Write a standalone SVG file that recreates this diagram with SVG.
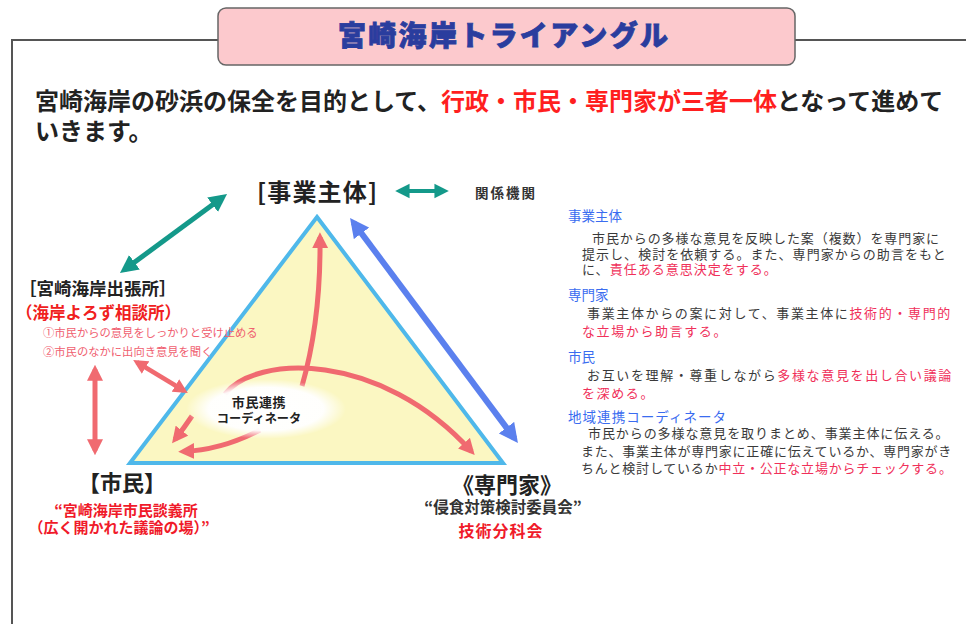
<svg xmlns="http://www.w3.org/2000/svg" width="966" height="624" viewBox="0 0 966 624">
<style>
text{font-family:"Noto Sans CJK JP","Noto Sans CJK SC",sans-serif;}
.b{font-weight:700;}
.dark{fill:#222;}
.body{fill:#3a3a3a;font-size:13px;}
.red{fill:#f0305a;}
.hred{fill:#ff1f1f;}
.blue{fill:#3a6cf0;font-size:13.5px;}
.pink{fill:#f06070;font-size:11.3px;}
.frame{fill:none;stroke:#555;stroke-width:2;}
</style>
<defs>
<marker id="mTeal" viewBox="0 0 10 10" refX="7" refY="5" markerWidth="3.6" markerHeight="4" orient="auto-start-reverse" markerUnits="strokeWidth"><path d="M0,0L10,5L0,10z" fill="#14998a"/></marker>
<marker id="mPink" viewBox="0 0 10 10" refX="7" refY="5" markerWidth="3.2" markerHeight="3.4" orient="auto-start-reverse" markerUnits="strokeWidth"><path d="M0,0L10,5L0,10z" fill="#f06a70"/></marker>
<marker id="mBlue" viewBox="0 0 10 10" refX="7" refY="5" markerWidth="3.2" markerHeight="3.4" orient="auto-start-reverse" markerUnits="strokeWidth"><path d="M0,0L10,5L0,10z" fill="#5b80ee"/></marker>
<radialGradient id="ell"><stop offset="0" stop-color="#fff" stop-opacity="1"/><stop offset="0.72" stop-color="#fff" stop-opacity="0.96"/><stop offset="1" stop-color="#fff" stop-opacity="0"/></radialGradient>
</defs>
<rect width="966" height="624" fill="#fff"/>
<g id="frame">
<path class="frame" d="M12,624V40H218M795,40H966"/>
</g>
<g id="title">
<rect x="218" y="8" width="577" height="57" rx="8" fill="#fcc9cd" stroke="#666" stroke-width="1.5"/>
<text x="338" y="46" font-size="28" font-weight="900" fill="#2a3d9e" stroke="#2a3d9e" stroke-width="0.8" textLength="330" lengthAdjust="spacing">宮崎海岸トライアングル</text>
</g>
<g id="heading">
<text class="b dark" font-size="24"><tspan x="35" y="110">宮崎海岸の砂浜の保全を目的として、<tspan class="hred">行政・市民・専門家が三者一体</tspan>となって進めて</tspan><tspan x="35" y="140">いきます。</tspan></text>
</g>
<g id="triangle">
<polygon points="317,217 503,463 130,463" fill="#fbf7c2" stroke="#4fb8ea" stroke-width="4" stroke-linejoin="miter"/>
</g>
<g id="connectors" fill="none" stroke-linecap="butt">
<line x1="222.7" y1="197.2" x2="124.3" y2="269.8" stroke="#14998a" stroke-width="5" marker-start="url(#mTeal)" marker-end="url(#mTeal)"/>
<line x1="399.5" y1="191" x2="444.5" y2="191" stroke="#14998a" stroke-width="4" marker-start="url(#mTeal)" marker-end="url(#mTeal)"/>
<line x1="353.5" y1="222.6" x2="514.5" y2="438.4" stroke="#5b80ee" stroke-width="6" marker-start="url(#mBlue)" marker-end="url(#mBlue)"/>
<line x1="95" y1="369.5" x2="95" y2="450.5" stroke="#f06a70" stroke-width="5" marker-start="url(#mPink)" marker-end="url(#mPink)"/>
<line x1="136.9" y1="362.3" x2="184.1" y2="390.7" stroke="#f06a70" stroke-width="4.5" marker-start="url(#mPink)" marker-end="url(#mPink)"/>
<path d="M302,386 Q321,320 320,237" stroke="#f06a70" stroke-width="5" marker-end="url(#mPink)"/>
<path d="M225,394 C255,355 380,350 471.5,451.5" stroke="#f06a70" stroke-width="5" marker-end="url(#mPink)"/>
<path d="M192,416 Q184,428 175,439.4" stroke="#f06a70" stroke-width="5" marker-end="url(#mPink)"/>
<path d="M260,430 Q222,450 183,451.5" stroke="#f06a70" stroke-width="5" marker-end="url(#mPink)"/>
</g>
<g id="node-coordinator">
<ellipse cx="266" cy="409" rx="80" ry="30" fill="url(#ell)"/>
<text text-anchor="middle" class="b dark"><tspan x="259" y="407" font-size="13" letter-spacing="0.6">市民連携</tspan><tspan x="259" y="423" font-size="12.2">コーディネータ</tspan></text>
</g>
<g id="node-jigyo">
<text x="317" y="201" text-anchor="middle" font-size="24" class="b dark" textLength="120" lengthAdjust="spacing">[事業主体]</text>
</g>
<g id="node-kankei">
<text x="475" y="198" font-size="13.5" class="b" fill="#333" letter-spacing="2">関係機関</text>
</g>
<g id="node-shutchojo">
<text class="b"><tspan x="19" y="295" font-size="17.5" class="dark">［宮崎海岸出張所］</tspan><tspan x="16" y="319" font-size="16.5" fill="#f02020">（海岸よろず相談所）</tspan></text>
<text class="pink"><tspan x="43" y="337">①市民からの意見をしっかりと受け止める</tspan><tspan x="43" y="356">②市民のなかに出向き意見を聞く</tspan></text>
</g>
<g id="node-shimin">
<text text-anchor="middle" class="b"><tspan x="122" y="491" font-size="22" class="dark">【市民】</tspan><tspan x="126" y="516" font-size="15" fill="#f01a2a">“宮崎海岸市民談義所</tspan><tspan x="119" y="533" font-size="15" fill="#f01a2a">（広く開かれた議論の場）”</tspan></text>
</g>
<g id="node-senmonka">
<text text-anchor="middle" class="b"><tspan x="507" y="493" font-size="22" class="dark">《専門家》</tspan><tspan x="503" y="513" font-size="15.5" fill="#333">“侵食対策検討委員会”</tspan><tspan x="501" y="537" font-size="16" fill="#f01a2a" letter-spacing="1">技術分科会</tspan></text>
</g>
<g id="description">
<text class="body"><tspan x="568" y="221" class="blue">事業主体</tspan><tspan x="592" y="243" letter-spacing="0.92">市民からの多様な意見を反映した案（複数）を専門家に</tspan><tspan x="582" y="259" letter-spacing="1.04">提示し、検討を依頼する。また、専門家からの助言をもと</tspan><tspan x="582" y="274" letter-spacing="1">に、<tspan class="red">責任ある意思決定をする。</tspan></tspan></text>
<text class="body"><tspan x="568" y="300" class="blue">専門家</tspan><tspan x="587" y="318" letter-spacing="1.64">事業主体からの案に対して、事業主体に<tspan class="red">技術的・専門的</tspan></tspan><tspan x="582" y="336" letter-spacing="1.6" class="red">な立場から助言する。</tspan></text>
<text class="body"><tspan x="568" y="362" class="blue">市民</tspan><tspan x="587" y="380" letter-spacing="1.64">お互いを理解・尊重しながら<tspan class="red">多様な意見を出し合い議論</tspan></tspan><tspan x="582" y="398" letter-spacing="1.6" class="red">を深める。</tspan></text>
<text class="body"><tspan x="568" y="422" class="blue" letter-spacing="1.05">地域連携コーディネータ</tspan><tspan x="588" y="438" letter-spacing="0.92">市民からの多様な意見を取りまとめ、事業主体に伝える。</tspan><tspan x="581" y="456" letter-spacing="0.78">また、事業主体が専門家に正確に伝えているか、専門家がき</tspan><tspan x="581" y="473" letter-spacing="0.78">ちんと検討しているか<tspan class="red">中立・公正な立場からチェックする。</tspan></tspan></text>
</g>
</svg>
